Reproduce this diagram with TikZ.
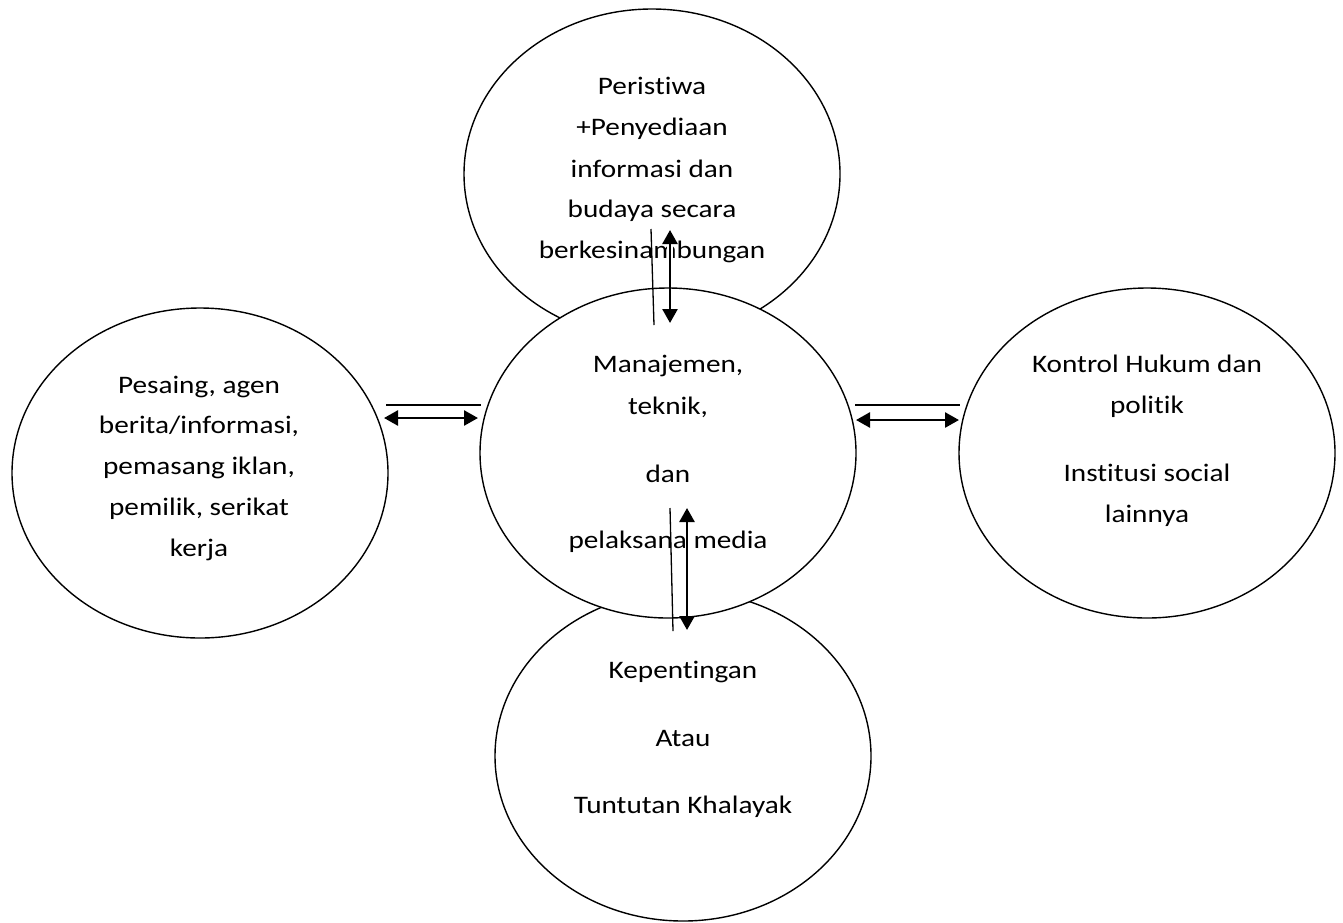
\documentclass[tikz,border=0pt]{standalone}
\usepackage{fontspec}
\setmainfont{Carlito}[FakeStretch=1.16,Ligatures=NoCommon]
\usetikzlibrary{shapes.geometric,arrows.meta}
\begin{document}
\begin{tikzpicture}[x=0.5pt,y=-0.5pt,
  bubble/.style={ellipse,draw,line width=0.7pt,inner sep=0pt,minimum width=188pt,minimum height=165pt,fill=white},
  lbl/.style={anchor=base,inner sep=0pt,font=\fontsize{12.6pt}{15pt}\selectfont},
  thinline/.style={line width=0.65pt},
  dblarrow/.style={line width=1.3pt,{Triangle[length=7pt,width=7.5pt]}-{Triangle[length=7pt,width=7.5pt]}},
  halo/.style={white,line width=3pt}]
\useasboundingbox (0,0) rectangle (1343,922);

% ellipses
\node[bubble] (top) at (652,174) {};
\node[bubble] (bot) at (683,756) {};
\node[bubble] (mid) at (668,453) {};
\node[bubble] (lft) at (200,473) {};
\node[bubble] (rgt) at (1147,453) {};

% texts
\foreach \t/\y [count=\i] in {Peristiwa/94, +Penyediaan/135, informasi dan/177, budaya secara/217, berkesinambungan/258}
  \node[lbl] (ttop\i) at (652,\y) {\t};
\foreach \t/\y [count=\i] in {{Manajemen,}/372, {teknik,}/414, dan/482, pelaksana media/548}
  \node[lbl] (tmid\i) at (668,\y) {\t};
\foreach \t/\y [count=\i] in {{Pesaing, agen}/393, {berita/informasi,}/433, {pemasang iklan,}/474, {pemilik, serikat}/515, kerja/556}
  \node[lbl] (tlft\i) at (199,\y) {\t};
\foreach \t/\y [count=\i] in {Kontrol Hukum dan/372, politik/413, Institusi social/481, lainnya/522}
  \node[lbl] (trgt\i) at (1147,\y) {\t};
\foreach \t/\y [count=\i] in {Kepentingan/678, Atau/746, Tuntutan Khalayak/813}
  \node[lbl] (tbot\i) at (683,\y) {\t};

% connector end points
\coordinate (ta1) at (651,229); \coordinate (ta2) at (654,325);
\coordinate (tb1) at (670,230); \coordinate (tb2) at (670,323);
\coordinate (ba1) at (670,508); \coordinate (ba2) at (673,631);
\coordinate (bb1) at (687,508); \coordinate (bb2) at (687,630);
\coordinate (la1) at (386,405); \coordinate (la2) at (481,405);
\coordinate (lb1) at (384,418); \coordinate (lb2) at (478,418);
\coordinate (ra1) at (855,405); \coordinate (ra2) at (960,405);
\coordinate (rb1) at (856,420); \coordinate (rb2) at (959,420);

\draw[halo] (670,240) -- (670,262);

% connectors
\draw[thinline] (ta1) -- (ta2);
\draw[dblarrow] (tb1) -- (tb2);
\draw[thinline] (ba1) -- (ba2);
\draw[dblarrow] (bb1) -- (bb2);
\draw[thinline] (la1) -- (la2);
\draw[dblarrow] (lb1) -- (lb2);
\draw[thinline] (ra1) -- (ra2);
\draw[dblarrow] (rb1) -- (rb2);
\end{tikzpicture}
\end{document}
